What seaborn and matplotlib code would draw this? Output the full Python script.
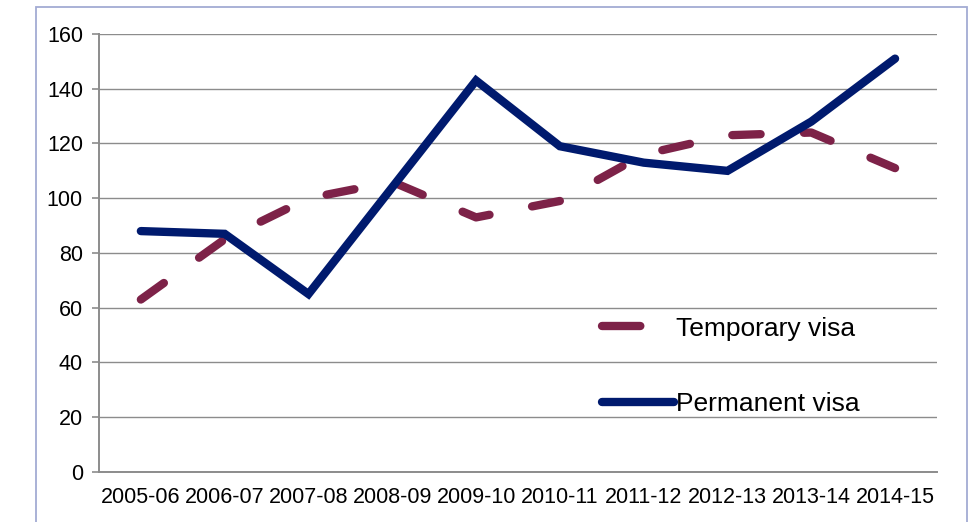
import matplotlib
matplotlib.use("Agg")
import matplotlib.pyplot as plt
import seaborn as sns
import pandas as pd
from matplotlib.patches import Rectangle

years = ["2005-06", "2006-07", "2007-08", "2008-09", "2009-10",
         "2010-11", "2011-12", "2012-13", "2013-14", "2014-15"]
temporary = [63, 85, 100, 106, 93, 99, 116, 123, 124, 111]
permanent = [88, 87, 65, 104, 143, 119, 113, 110, 128, 151]

df = pd.DataFrame({"year": years, "Temporary visa": temporary, "Permanent visa": permanent})

sns.set_style("white")
plt.rcParams["font.family"] = ["Liberation Sans", "DejaVu Sans"]

grid_col = "#8c8c8c"
fig = plt.figure(figsize=(9.76, 5.22), dpi=100)
ax = fig.add_axes([0.1014, 0.0958, 0.8586, 0.8391])

# outer chart frame
fig.patches.append(Rectangle((36 / 976, -0.05), (967 - 36) / 976, 1.05 - 7 / 522,
                             transform=fig.transFigure, fill=False,
                             edgecolor="#a3abd3", linewidth=1.3))

sns.lineplot(data=df, x="year", y="Temporary visa", ax=ax, color="#7d2248",
             linewidth=6, linestyle=(0, (3.4, 5.2)), label="Temporary visa",
             dash_capstyle="round", solid_capstyle="round")
sns.lineplot(data=df, x="year", y="Permanent visa", ax=ax, color="#001a6e",
             linewidth=6, label="Permanent visa", solid_capstyle="round",
             solid_joinstyle="miter")

ax.set_xlim(-0.5, len(years) - 0.5)
ax.set_ylim(0, 160)
ax.set_yticks(range(0, 161, 20))
ax.yaxis.grid(True, color=grid_col, linewidth=1.0)
ax.set_axisbelow(True)
ax.set_xlabel("")
ax.set_ylabel("")

ax.set_xticks(range(len(years)))
ax.set_xticklabels(years)
ax.set_xticks([i - 0.5 for i in range(len(years) + 1)], minor=True)
ax.tick_params(axis="x", which="major", length=0, pad=11, labelsize=15.5, labelcolor="black")
ax.tick_params(axis="x", which="minor", length=5, width=1.2, color=grid_col, direction="out")
ax.tick_params(axis="y", length=5, width=1.2, color=grid_col, direction="out",
               labelsize=15.5, labelcolor="black", pad=6.5, left=True)

for side in ["top", "right"]:
    ax.spines[side].set_visible(False)
for side in ["left", "bottom"]:
    ax.spines[side].set_color(grid_col)
    ax.spines[side].set_linewidth(1.4)

leg = ax.legend(loc="upper left", bbox_to_anchor=(0.585, 0.385), frameon=False,
                fontsize=19, handlelength=2.7, handletextpad=0.1, labelspacing=1.95,
                borderpad=0, labelcolor="black")
# legend swatch for the dashed series shows a single dash
leg.get_lines()[0].set_linestyle((0, (4.6, 12)))

fig.savefig("out.png", dpi=100)
